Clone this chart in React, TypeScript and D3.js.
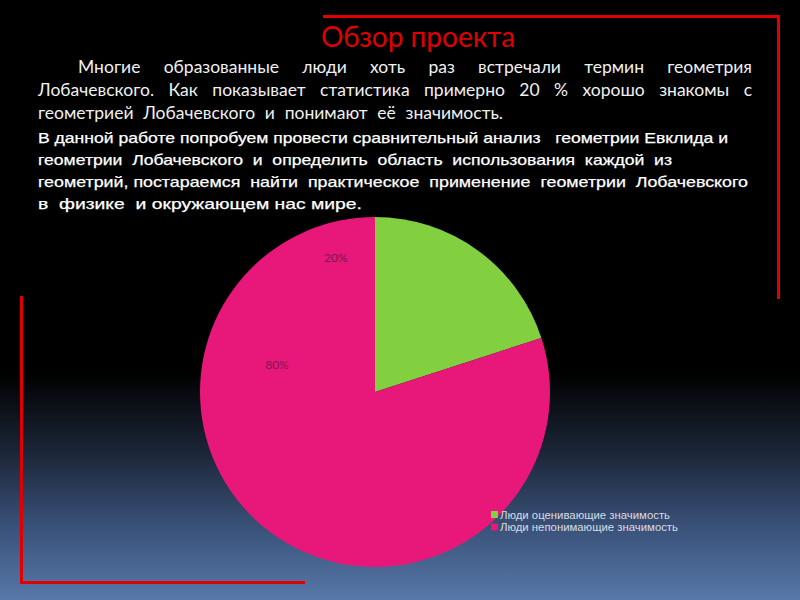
import React from "react";
import * as d3 from "d3";

const categories = ["Люди оценивающие значимость", "Люди непонимающие значимость"];
const values = [20, 80];
const valueLabels = ["20%", "80%"];
const colors = ["#82cf3f", "#e8187a"];

const titleText = "Обзор проекта";
const para1 = [
  "Многие образованные люди хоть раз встречали термин геометрия",
  "Лобачевского. Как показывает статистика примерно 20 % хорошо знакомы с",
  "геометрией Лобачевского и понимают её значимость.",
];
const para2 = [
  "В данной работе попробуем провести сравнительный анализ   геометрии Евклида и",
  "геометрии  Лобачевского  и  определить  область  использования  каждой  из",
  "геометрий, постараемся  найти  практическое  применение  геометрии  Лобачевского",
  "в  физике  и окружающем нас мире.",
];

// layout
const W = 800, H = 600;
const cx = 375, cy = 392, R = 175;
const p1 = [
  { x: 78, y: 73, w: 674 },
  { x: 38, y: 96, w: 714 },
  { x: 38, y: 119, w: 465 },
];
const p2 = [
  { x: 38, y: 143, w: 690 },
  { x: 38, y: 165, w: 634 },
  { x: 38, y: 187, w: 710 },
  { x: 38, y: 209, w: 324 },
];
const labelPlace = [
  { a: -16.5, r: 0.79 },
  { a: -75, r: 0.58 },
];

const P1_FONT = "17.5px Lato";

function measure(text: string, font: string): number {
  if (typeof document === "undefined") return 0;
  const c = document.createElement("canvas");
  const ctx = c.getContext("2d");
  if (!ctx) return 0;
  ctx.font = font;
  return ctx.measureText(text).width;
}

function wordSpacing(text: string, font: string, target: number): number {
  const nat = measure(text, font);
  const spaces = (text.match(/ /g) || []).length;
  if (!nat || !spaces) return 0;
  return (target - nat) / spaces;
}

export default function App() {
  const pie = d3.pie<number>().sort(null).value((d) => d)(values);
  const arc = d3.arc<d3.PieArcDatum<number>>().innerRadius(0).outerRadius(R);

  return (
    <svg width={W} height={H} style={{ display: "block", position: "absolute", left: 0, top: 0 }}>
      <defs>
        <linearGradient id="bg" x1="0" y1="0" x2="0" y2="1">
          <stop offset="0" stopColor="#000000" />
          <stop offset="0.62" stopColor="#000000" />
          <stop offset="0.75" stopColor="#1b2436" />
          <stop offset="0.88" stopColor="#3a5279" />
          <stop offset="1" stopColor="#5778aa" />
        </linearGradient>
      </defs>
      <rect x={0} y={0} width={W} height={H} fill="url(#bg)" />

      <path d={`M323,16.5 H778.5 V299`} fill="none" stroke="#e00000" strokeWidth={3} />
      <path d={`M21.5,296 V582.5 H305`} fill="none" stroke="#e00000" strokeWidth={3} />

      <text x={418} y={47} textAnchor="middle" fill="#e00000" fontFamily="Lato, sans-serif" fontSize={28}>
        {titleText}
      </text>

      {para1.map((t, i) => (
        <text
          key={i}
          x={p1[i].x}
          y={p1[i].y}
          fill="#f0f0f0"
          fontFamily="Lato, sans-serif"
          fontSize={17.5}
          wordSpacing={wordSpacing(t, P1_FONT, p1[i].w)}
          style={{ whiteSpace: "pre" }}
        >
          {t}
        </text>
      ))}
      {para2.map((t, i) => (
        <text
          key={i}
          x={p2[i].x}
          y={p2[i].y}
          fill="#ffffff"
          stroke="#ffffff"
          strokeWidth={0.25}
          fontFamily="'Liberation Sans', Arial, sans-serif"
          fontSize={15}
          textLength={p2[i].w}
          lengthAdjust="spacingAndGlyphs"
          style={{ whiteSpace: "pre" }}
        >
          {t}
        </text>
      ))}

      <g transform={`translate(${cx},${cy})`}>
        {pie.map((d, i) => (
          <path key={i} d={arc(d) || ""} fill={colors[i]} />
        ))}
        {pie.map((d, i) => {
          const a = (labelPlace[i].a * Math.PI) / 180;
          const r = labelPlace[i].r * R;
          return (
            <text
              key={"l" + i}
              x={Math.sin(a) * r}
              y={-Math.cos(a) * r}
              textAnchor="middle"
              dominantBaseline="middle"
              fill="#7d1650"
              fontFamily="Lato, sans-serif"
              fontSize={12}
            >
              {valueLabels[i]}
            </text>
          );
        })}
      </g>

      <g transform="translate(491,511)">
        {categories.map((c, i) => (
          <g key={i} transform={`translate(0,${i * 12.5})`}>
            <rect x={0} y={0} width={7} height={7} fill={colors[i]} />
            <text
              x={9}
              y={7.5}
              fill="#d8dce6"
              fontFamily="'Liberation Sans', Arial, sans-serif"
              fontSize={10.5}
              textLength={i === 0 ? 170 : 178}
              lengthAdjust="spacingAndGlyphs"
            >
              {c}
            </text>
          </g>
        ))}
      </g>
    </svg>
  );
}
